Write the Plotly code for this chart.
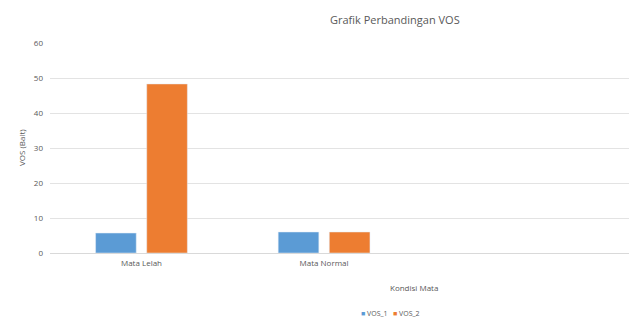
import plotly.graph_objects as go

categories = ["Mata Lelah", "Mata Normal"]
vos_1 = [5.7, 6.0]
vos_2 = [48.3, 6.0]
series_names = ["VOS_1", "VOS_2"]
colors = ["#5b9bd5", "#ed7d31"]
y_ticks = [0, 10, 20, 30, 40, 50, 60]

fig = go.Figure()
fig.add_trace(go.Bar(x=categories, y=vos_1, name=series_names[0], marker_color=colors[0]))
fig.add_trace(go.Bar(x=categories, y=vos_2, name=series_names[1], marker_color=colors[1]))

font_c = "#595959"
L, T, B, W, H = 50, 43, 67, 629, 320
pw, ph = W - L, H - T - B

fig.update_layout(
    width=W, height=H,
    margin=dict(l=L, r=0, t=T, b=B, pad=0),
    paper_bgcolor="white", plot_bgcolor="white",
    barmode="group", bargap=0.44, bargroupgap=0.205,
    font=dict(family="Open Sans", size=8, color=font_c),
    showlegend=False,
)
fig.update_xaxes(range=[-0.501, 2.67], showgrid=False, showline=False, ticks="",
                 automargin=False, tickfont=dict(size=8, color=font_c), ticklabelstandoff=4)
fig.update_yaxes(range=[0, 60], tickvals=y_ticks, showgrid=True, gridcolor="#e3e3e3",
                 gridwidth=1, zeroline=True, zerolinecolor="#d9d9d9", zerolinewidth=1,
                 showline=False, ticks="", tickfont=dict(size=8, color=font_c),
                 ticklabelstandoff=6, automargin=False)

def px(xp):
    return (xp - L) / pw

def py(yp):
    return (H - B - yp) / ph

fig.add_annotation(text="Grafik Perbandingan VOS", xref="paper", yref="paper",
                   x=px(395), y=py(20), xanchor="center", yanchor="middle",
                   showarrow=False, font=dict(size=11, color=font_c))
fig.add_annotation(text="Kondisi Mata", xref="paper", yref="paper",
                   x=px(414), y=py(287), xanchor="center", yanchor="middle",
                   showarrow=False, font=dict(size=8, color=font_c))
fig.add_annotation(text="VOS (Bait)", xref="paper", yref="paper",
                   x=px(21), y=py(148), xanchor="center", yanchor="middle", textangle=-90,
                   showarrow=False, font=dict(size=8, color=font_c))
legend_text = "   ".join(
    f"<span style='color:{c}'>■</span> {n}" for c, n in zip(colors, series_names)
)
fig.add_annotation(text=legend_text, xref="paper", yref="paper",
                   x=px(390), y=py(313), xanchor="center", yanchor="middle",
                   showarrow=False, font=dict(size=7, color=font_c))

fig.write_html("out.html")
